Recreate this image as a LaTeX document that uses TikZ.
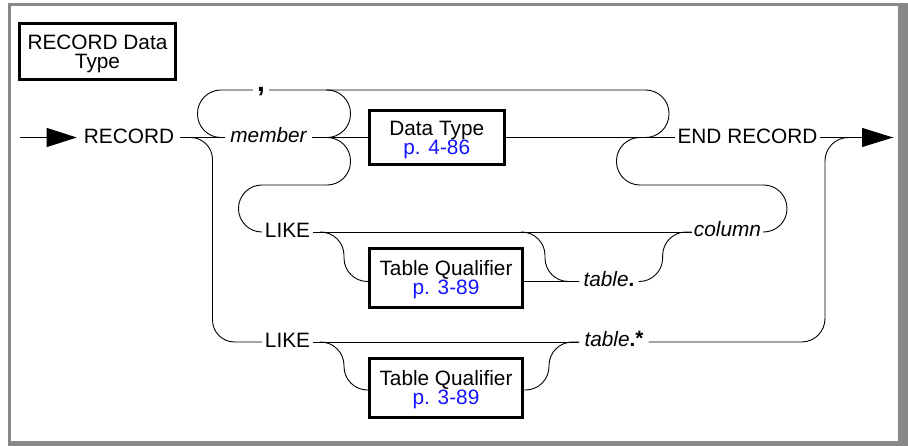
\documentclass[tikz,border=0pt]{standalone}
\usepackage{fontspec}
\setmainfont{Liberation Sans}
\usetikzlibrary{arrows.meta,calc}
\definecolor{framegray}{RGB}{136,136,136}
\definecolor{linkblue}{RGB}{20,20,255}
\newcommand{\boxstrut}{\rule{0pt}{19pt}}
\begin{document}
\begin{tikzpicture}[x=1pt,y=-1pt,
  every node/.style={font=\fontsize{20.8}{19}\selectfont},
  kw/.style={inner ysep=0pt, inner xsep=#1, text height=15pt, text depth=3pt},
  kw/.default=3pt,
  var/.style={inner ysep=0pt, inner xsep=#1, text height=14pt, text depth=4pt,
    font=\fontsize{20.8}{19}\selectfont\itshape},
  var/.default=3pt,
  box/.style={draw, line width=3pt, align=center, inner sep=0pt},
  rail/.style={line width=0.9pt, rounded corners=23.4pt},
  scurve/.style={line width=0.9pt, rounded corners=23.5pt}
]
\useasboundingbox (0,0) rectangle (908,446);
% frame
\fill[framegray] (7.5,3.5) rectangle (908,6);
\fill[framegray] (7.5,3.5) rectangle (10.5,446);
\fill[framegray] (898,3.5) rectangle (908,446);
\fill[framegray] (7.5,441) rectangle (908,446);

% nodes
\node[box, minimum width=156pt, minimum height=56pt] (title) at (97.5,51.5) {\boxstrut RECORD Data\\Type};
\node[kw=6pt] (record) at (129,137.5) {RECORD};
\node[var=5pt] (member) at (268.5,137.5) {member};
\node[box, minimum width=134.5pt, minimum height=54pt] (dtype) at (436.75,137.5)
  {\boxstrut Data Type\\\textcolor{linkblue}{p. 4-86}};
\node[kw=2pt] (endrec) at (747.5,137.5) {END RECORD};
\node[inner ysep=0pt, inner xsep=4pt, text height=3pt, text depth=0pt,
  font=\fontsize{28}{28}\selectfont\bfseries] (comma) at (261,90) {,};
\node[kw=3pt] (like1) at (287.5,232) {LIKE};
\node[box, minimum width=153pt, minimum height=59pt] (tq1) at (446,278)
  {\boxstrut Table Qualifier\\\textcolor{linkblue}{p. 3-89}};
\node[var=4pt] (tabdot) at (609,281.5) {table\textbf{\upshape .}};
\node[var=2pt] (column) at (727.5,232) {column};
\node[kw=3pt] (like2) at (287.5,342) {LIKE};
\node[box, minimum width=153pt, minimum height=59pt] (tq2) at (446,388)
  {\boxstrut Table Qualifier\\\textcolor{linkblue}{p. 3-89}};
\node[var=5pt] (tabstar) at (614,342) {table\textbf{\upshape .}\raisebox{1.5pt}{\textbf{\upshape *}}};

% junction coordinates
\coordinate (start) at (20,137.5);
\coordinate (finish) at (893,137.5);
\coordinate (sp1) at (190,137.5);
\coordinate (leftrail) at (212.5,250);
\coordinate (jt) at (326,90);
\coordinate (jm) at (326,137.5);
\coordinate (jr) at (645,137.5);
\coordinate (jr2) at (640,137.5);
\coordinate (s1) at (320,232);
\coordinate (s2) at (521,232);
\coordinate (s3) at (320,342);
\coordinate (rightrail) at (825,250);

% entry arrow
\draw[line width=0.9pt, -{Triangle[length=30pt,width=19pt]}] (start) -- ([xshift=-1pt]record.west);
% main line
\draw[rail] (record.east) -- (member.west);
\draw[rail] (member.east) -- (dtype.west);
\draw[rail] (dtype.east) -- (endrec.west);
\draw[rail, -{Triangle[length=31pt,width=19pt]}] (endrec.east) -- (finish);

% repetition loop with comma
\draw[rail] (comma.west) -- (197.5,90) |- (member.west);
\draw[rail] (comma.east) -- (669,90) |- (jr);
\draw[rail] (jt) -- (350.5,90) |- (jm);

% LIKE ... column alternative
\draw[rail] (jm) -- (350.5,137.5) |- (238.5,185) |- (like1.west);
\draw[rail] (jr2) -- (616.5,137.5) |- (787,185) |- (column.east);
\draw[rail] (like1.east) -- (column.west);
\draw[scurve] (s1) -- ++(24,0) |- (tq1.west |- tabdot.west);
\draw[rail] (tq1.east |- tabdot.west) -- (tabdot.west);
\draw[scurve] (s2) -- ++(24,0) |- (tabdot.west);
\draw[scurve] (tabdot.east) -- ++(24,0) |- (column.west);

% LIKE table.* alternative
\draw[rail, rounded corners=22pt] (sp1) -| (leftrail) |- (like2.west);
\draw[rail] (like2.east) -- (tabstar.west);
\draw[scurve] (s3) -- ++(24,0) |- ([yshift=-2pt]tq2.west);
\draw[scurve] ([yshift=-2pt]tq2.east) -- ++(25,0) |- (tabstar.west);
\draw[rail] (tabstar.east) -| (rightrail) |- (finish);
\end{tikzpicture}
\end{document}
